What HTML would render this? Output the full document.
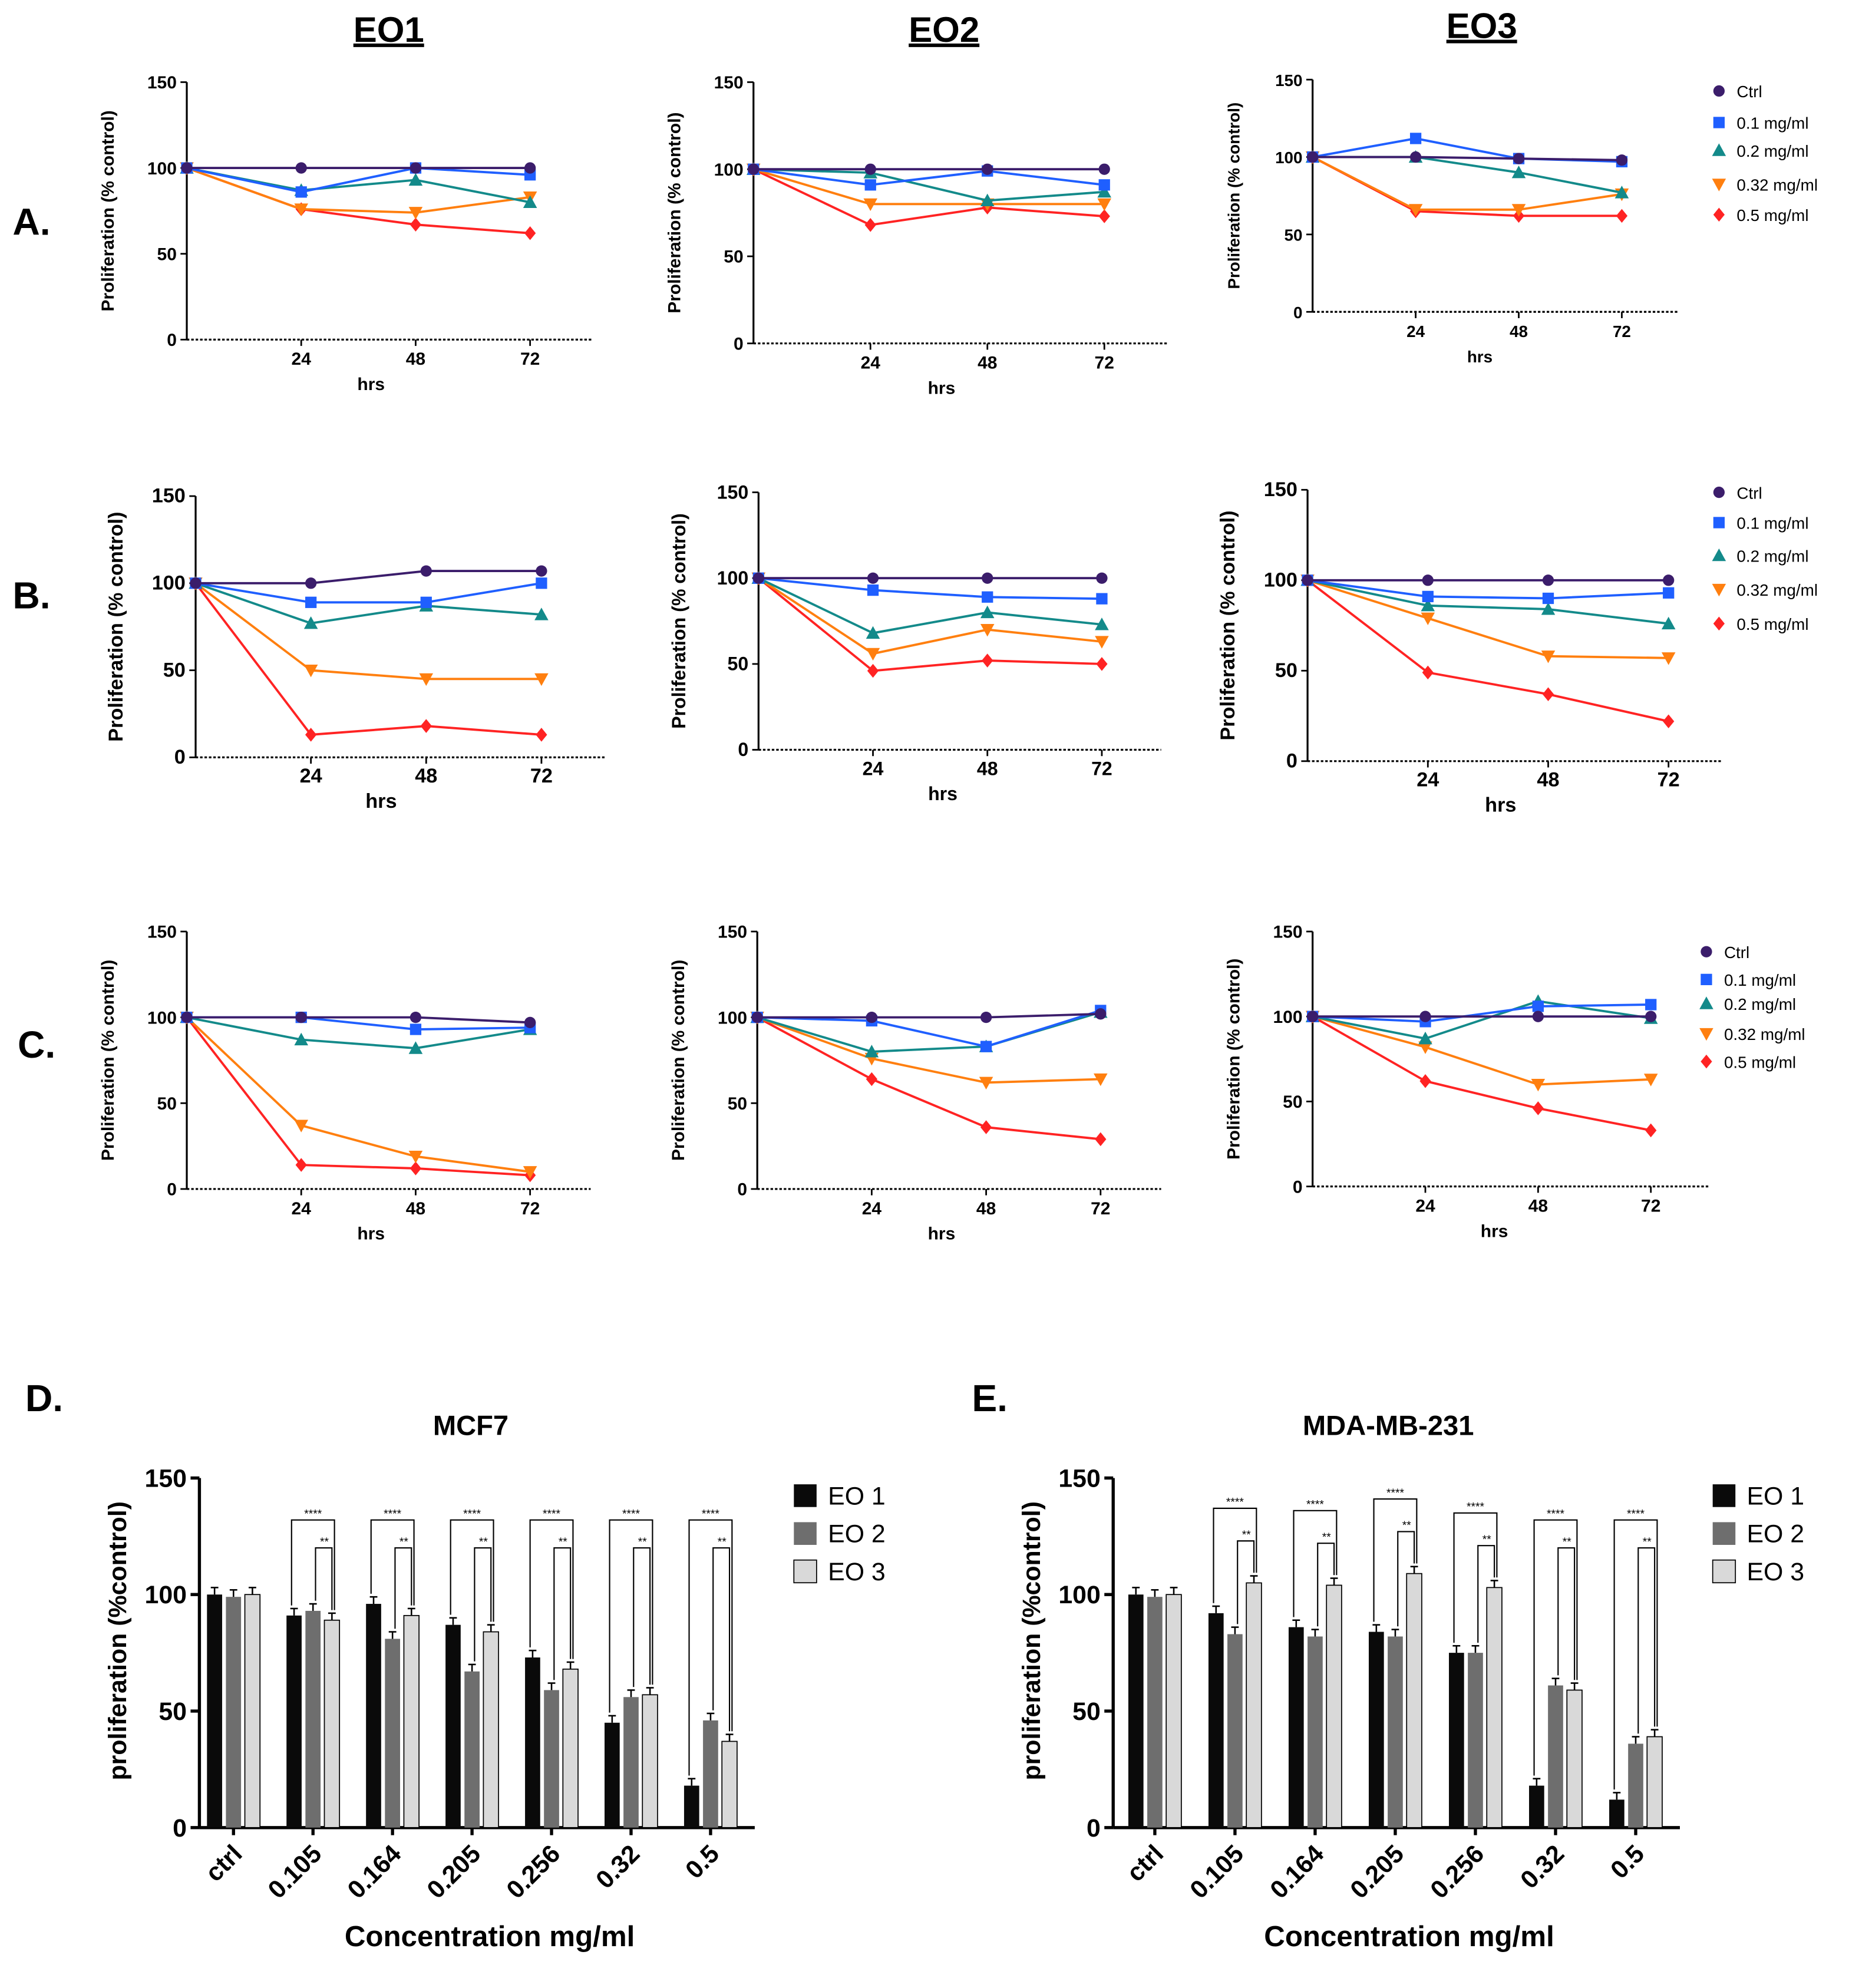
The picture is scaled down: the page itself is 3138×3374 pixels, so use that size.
<!DOCTYPE html>
<html><head><meta charset="utf-8"><style>
html,body{margin:0;padding:0;background:#fff}
svg{display:block;font-family:"Liberation Sans",Arial,sans-serif}
</style></head><body>
<svg id="root" width="3138" height="3374" viewBox="0 0 1465 1575" xmlns="http://www.w3.org/2000/svg">
<rect width="1465" height="1575" fill="#fff"/>
<g font-weight="bold" font-size="28" text-anchor="middle" text-decoration="underline">
<text x="308" y="33">EO1</text>
<text x="748" y="33">EO2</text>
<text x="1174" y="30">EO3</text>
</g>
<g font-weight="bold" font-size="30">
<text x="10" y="186">A.</text>
<text x="10" y="482">B.</text>
<text x="14" y="838">C.</text>
<text x="20" y="1118">D.</text>
<text x="770" y="1118">E.</text>
</g>
<g font-weight="bold" font-size="22" text-anchor="middle">
<text x="373" y="1137">MCF7</text>
<text x="1100" y="1137">MDA-MB-231</text>
</g>
</svg>
<script>
const hours=[0,24,48,72];
const seriesNames=['Ctrl','0.1 mg/ml','0.2 mg/ml','0.32 mg/ml','0.5 mg/ml'];
const A1=[[100,100,100,100],[100,86,100,96],[100,87,93,80],[100,76,74,83],[100,76,67,62]];
const A2=[[100,100,100,100],[100,91,99,91],[100,98,82,87],[100,80,80,80],[100,68,78,73]];
const A3=[[100,100,99,98],[100,112,99,97],[100,100,90,77],[100,66,66,76],[100,65,62,62]];
const B1=[[100,100,107,107],[100,89,89,100],[100,77,87,82],[100,50,45,45],[100,13,18,13]];
const B2=[[100,100,100,100],[100,93,89,88],[100,68,80,73],[100,56,70,63],[100,46,52,50]];
const B3=[[100,100,100,100],[100,91,90,93],[100,86,84,76],[100,79,58,57],[100,49,37,22]];
const C1=[[100,100,100,97],[100,100,93,94],[100,87,82,93],[100,37,19,10],[100,14,12,8]];
const C2=[[100,100,100,102],[100,98,83,104],[100,80,83,103],[100,76,62,64],[100,64,36,29]];
const C3=[[100,100,100,100],[100,97,106,107],[100,87,109,99],[100,82,60,63],[100,62,46,33]];
const yTicks=[0,50,100,150];
const xTicks=[24,48,72];
const barCats=['ctrl','0.105','0.164','0.205','0.256','0.32','0.5'];
const barSeries=['EO 1','EO 2','EO 3'];
const D_EO1=[100,91,96,87,73,45,18];
const D_EO2=[99,93,81,67,59,56,46];
const D_EO3=[100,89,91,84,68,57,37];
const E_EO1=[100,92,86,84,75,18,12];
const E_EO2=[99,83,82,82,75,61,36];
const E_EO3=[100,105,104,109,103,59,39];

const NS='http://www.w3.org/2000/svg';
const root=document.getElementById('root');
const colors=['#3b1d6b','#1f5fff','#138a8a','#ff7f0f','#ff2323'];
function el(tag,attrs,parent,text){const e=document.createElementNS(NS,tag);for(const k in attrs)e.setAttribute(k,attrs[k]);if(text!==undefined)e.textContent=text;(parent||root).appendChild(e);return e;}
function marker(g,i,x,y){const c=colors[i],s=4.5;let m;
 if(i===0)m=el('circle',{cx:x,cy:y,r:s,fill:c},g);
 else if(i===1)m=el('rect',{x:x-s,y:y-s,width:2*s,height:2*s,fill:c},g);
 else if(i===2)m=el('polygon',{points:`${x},${y-s-1} ${x-s-1},${y+s} ${x+s+1},${y+s}`,fill:c},g);
 else if(i===3)m=el('polygon',{points:`${x},${y+s+1} ${x-s-1},${y-s} ${x+s+1},${y-s}`,fill:c},g);
 else m=el('polygon',{points:`${x},${y-s-1} ${x+s},${y} ${x},${y+s+1} ${x-s},${y}`,fill:c},g);
 
 }
function lineChart(name,data,ox,yTop,y0,x72,xEnd,fs){
 const g=el('g',{},root);
 
 
 const sx=h=>ox+(x72-ox)*h/72, sy=v=>y0-(y0-yTop)*v/150;
 el('line',{x1:ox,y1:yTop,x2:ox,y2:y0,stroke:'#000','stroke-width':1.5},g);
 el('line',{x1:ox,y1:y0,x2:xEnd,y2:y0,stroke:'#000','stroke-width':1.5,'stroke-dasharray':'2,1.5'},g);
 yTicks.forEach(t=>{el('line',{x1:ox-5,y1:sy(t),x2:ox,y2:sy(t),stroke:'#000','stroke-width':1.3},g);
  const tl=el('text',{x:ox-8,y:sy(t)+5,'font-size':fs,'font-weight':'bold','text-anchor':'end'},g,t);
  
  });
 xTicks.forEach(t=>{el('line',{x1:sx(t),y1:y0,x2:sx(t),y2:y0+5,stroke:'#000','stroke-width':1.3},g);
  const tl=el('text',{x:sx(t),y:y0+20,'font-size':fs,'font-weight':'bold','text-anchor':'middle'},g,t);
  
  });
 const xt=el('text',{x:(ox+x72)/2+10,y:y0+40,'font-size':fs,'font-weight':'bold','text-anchor':'middle'},g,'hrs');
 
 
 const cy=(yTop+y0)/2, cx=ox-58;
 const yt=el('text',{x:cx,y:cy,'font-size':fs,'font-weight':'bold','text-anchor':'middle',transform:`rotate(-90 ${cx} ${cy})`},g,'Proliferation (% control)');
 
 
 for(let i=data.length-1;i>=0;i--){
  const pts=data[i].map((v,j)=>sx(hours[j])+','+sy(v)).join(' ');
  const pl=el('polyline',{points:pts,fill:'none',stroke:colors[i],'stroke-width':1.8},g);
  
  
  data[i].forEach((v,j)=>marker(g,i,sx(hours[j]),sy(v)));
 }
}
function legend(x,ys){
 const g=el('g',{},root);
 
 
 ys.forEach((y,i)=>{marker(g,i,x,y);
  const t=el('text',{x:x+14,y:y+5,'font-size':13},g,seriesNames[i]);
  
  });
}
lineChart('chart-a1',A1,148,65,269,420,470,14);
lineChart('chart-a2',A2,597,65,272,875,925,14);
lineChart('chart-a3',A3,1040,63,247,1285,1330,13);
lineChart('chart-b1',B1,155,393,600,429,480,16);
lineChart('chart-b2',B2,601,390,594,873,920,15);
lineChart('chart-b3',B3,1036,388,603,1322,1365,16);
lineChart('chart-c1',C1,148,738,942,420,468,14);
lineChart('chart-c2',C2,600,738,942,872,920,14);
lineChart('chart-c3',C3,1040,738,940,1308,1355,14);
legend(1362,[72,97,119,146,170]);
legend(1362,[390,414,440,467,494]);
legend(1352,[754,776,795,819,841]);

const barFills=['#0a0a0a','#6e6e6e','#d9d9d9'];
function barChart(name,sets,ox,g0,sp,legX){
 const yTop=1171,y0=1448;
 const g=el('g',{},root);
 
 
 const sy=v=>y0-(y0-yTop)*v/150;
 const xEnd=g0+sp*6+35;
 el('line',{x1:ox,y1:yTop,x2:ox,y2:y0,stroke:'#000','stroke-width':2.5},g);
 el('line',{x1:ox,y1:y0,x2:xEnd,y2:y0,stroke:'#000','stroke-width':2.5},g);
 yTicks.forEach(t=>{el('line',{x1:ox-7,y1:sy(t),x2:ox,y2:sy(t),stroke:'#000','stroke-width':2.5},g);
  const tl=el('text',{x:ox-10,y:sy(t)+7,'font-size':20,'font-weight':'bold','text-anchor':'end'},g,t);
  
  });
 barCats.forEach((c,k)=>{const cx=g0+sp*k;
  el('line',{x1:cx,y1:y0,x2:cx,y2:y0+6,stroke:'#000','stroke-width':2.5},g);
  const tl=el('text',{x:cx+8,y:y0+22,'font-size':20,'font-weight':'bold','text-anchor':'end',transform:`rotate(-45 ${cx+8} ${y0+22})`},g,c);
  
  
  sets.forEach((arr,s)=>{const bx=cx+(s-1)*15-6;
   const r=el('rect',{x:bx,y:sy(arr[k]),width:12,height:y0-sy(arr[k]),fill:barFills[s],stroke:'#000','stroke-width':s===2?0.8:0},g);
   
   
   const ey=sy(arr[k]+3);
   el('line',{x1:bx+6,y1:ey,x2:bx+6,y2:sy(arr[k]),stroke:'#000','stroke-width':1.2},g);
   el('line',{x1:bx+3,y1:ey,x2:bx+9,y2:ey,stroke:'#000','stroke-width':1.2},g);});
  if(k>0){const mx=Math.max(sets[0][k],sets[1][k],sets[2][k]);
   const yb1=sy(Math.max(mx+18,120)), yb2=sy(Math.max(mx+32,132));
   const x1=cx-15,x2=cx,x3=cx+15;
   el('polyline',{points:`${x1-2},${sy(sets[0][k])-8} ${x1-2},${yb2} ${x3+2},${yb2} ${x3+2},${sy(sets[2][k])-8}`,fill:'none',stroke:'#000','stroke-width':1},g);
   el('polyline',{points:`${x2+2},${sy(sets[1][k])-8} ${x2+2},${yb1} ${x3},${yb1} ${x3},${sy(sets[2][k])-8}`,fill:'none',stroke:'#000','stroke-width':1},g);
   el('text',{x:cx,y:yb2-2,'font-size':9,'text-anchor':'middle'},g,'****');
   el('text',{x:cx+9,y:yb1-2,'font-size':9,'text-anchor':'middle'},g,'**');}
 });
 const cy=1300,cx=ox-58;
 const yt=el('text',{x:cx,y:cy,'font-size':20,'font-weight':'bold','text-anchor':'middle',transform:`rotate(-90 ${cx} ${cy})`},g,'proliferation (%control)');
 
 
 const xt=el('text',{x:(ox+xEnd)/2+10,y:1542,'font-size':23,'font-weight':'bold','text-anchor':'middle'},g,'Concentration mg/ml');
 
 
 barSeries.forEach((n,s)=>{const ly=1185+30*s;
  el('rect',{x:legX-9,y:ly-9,width:18,height:18,fill:barFills[s],stroke:'#000','stroke-width':s===2?0.8:0},g);
  const t=el('text',{x:legX+18,y:ly+7,'font-size':20},g,n);
  
  });
}
barChart('bar-chart-mcf7',[D_EO1,D_EO2,D_EO3],158,185,63,638);
barChart('bar-chart-mda',[E_EO1,E_EO2,E_EO3],882,915,63.5,1366);
</script>
</body></html>
